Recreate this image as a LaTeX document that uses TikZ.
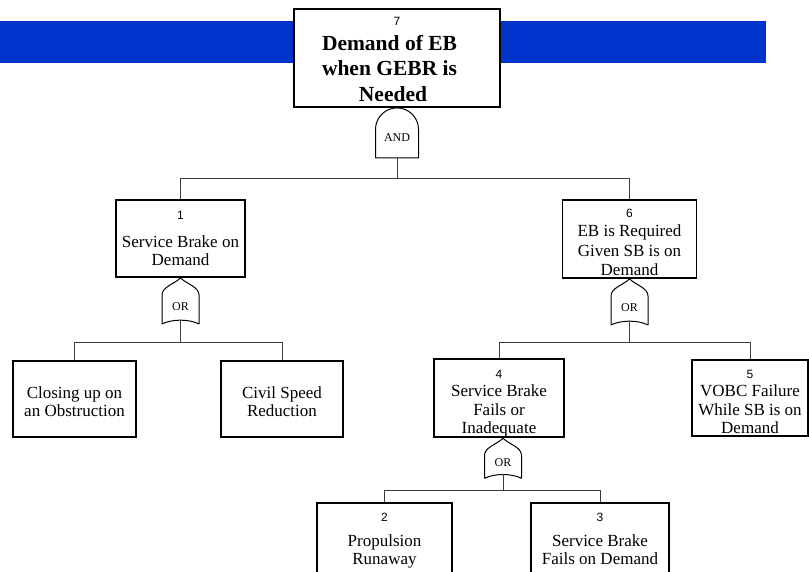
\documentclass[tikz,border=0pt]{standalone}
\usepackage{fontspec}
\setmainfont{Liberation Serif}
\newfontfamily\sansnum{Liberation Sans}
\usetikzlibrary{calc}
\definecolor{bandblue}{RGB}{0,51,204}
\definecolor{linkgray}{RGB}{60,60,60}
% event number printed above each event text
\newcommand\evno[1]{{\sansnum\mdseries\fontsize{12}{14}\selectfont #1}}
% invisible strut that lowers the text block inside its box
\newcommand\lift[1]{\rule{0pt}{#1}}
% invisible trailing space that moves a centred line to the left
\newcommand\trail[1]{\rule{#1}{0pt}}

\begin{document}
\begin{tikzpicture}[x=1pt,y=-1pt,
  evbox/.style={draw, line width=1.8pt, fill=white, align=center, inner sep=0pt,
    font=\fontsize{17}{18.5}\selectfont},
  link/.style={draw=linkgray, line width=1pt},
  gateline/.style={draw=black, line width=1pt, fill=white, line join=round},
  gatelabel/.style={font=\fontsize{12}{14}\selectfont, inner sep=0pt},
  pics/orgate/.style={code={
    \draw[gateline] (0,0) .. controls (6,6) and (18.5,9) .. (18.5,17)
      -- (18.5,#1) .. controls (8,#1-5) and (-8,#1-5) .. (-18.5,#1)
      -- (-18.5,17) .. controls (-18.5,9) and (-6,6) .. cycle;
    \node[gatelabel] (-lbl) at (0,{0.62*#1}) {OR};
    \coordinate (-in) at (0,0);
    \coordinate (-out) at (0,#1-4);
  }},
  pics/andgate/.style={code={
    \draw[gateline] (-21.5,50) -- (-21.5,21.5)
      .. controls (-21.5,9.6) and (-11.9,0) .. (0,0)
      .. controls (11.9,0) and (21.5,9.6) .. (21.5,21.5) -- (21.5,50) -- cycle;
    \node[gatelabel] (-lbl) at (0,30) {AND};
    \coordinate (-in) at (0,0);
    \coordinate (-out) at (0,50);
  }},
]
\useasboundingbox (0,0) rectangle (809,571);
\clip (0,0) rectangle (809,571);
\fill[white] (0,0) rectangle (809,571);

% title band
\fill[bandblue] (0,21) rectangle (766,63);

% top event
\node[evbox, minimum width=206pt, minimum height=98pt,
  font=\fontsize{21.5}{25.5}\selectfont\bfseries] (top) at (397,58)
  {\lift{11.6pt}\evno{7}\\[-1pt]Demand of EB\trail{15pt}\\when GEBR is\trail{15pt}\\Needed\trail{8pt}};
\pic (andg) at (top.south) {andgate};

% second level
\node[evbox, minimum width=129pt, minimum height=77pt] (b1) at (180.5,238.5)
  {\evno{1}\\[9pt]Service Brake on\\Demand};
\node[evbox, minimum width=134pt, minimum height=78pt] (b6) at (629.5,239)
  {\lift{14.6pt}\evno{6}\\[1pt]EB is Required\\[1pt]Given SB is on\\[0.5pt]Demand};

\coordinate (jA) at (397,178);
\draw[link] (andg-out) -- (jA);
\draw[link] (jA) -| (b1.north);
\draw[link] (jA) -| (b6.north);

% branch under event 1
\pic (g1) at (b1.south) {orgate=46};
\node[evbox, minimum width=123pt, minimum height=76pt] (bc) at (74.5,399)
  {\lift{17.6pt}Closing up on\\an Obstruction};
\node[evbox, minimum width=122pt, minimum height=76pt] (bs) at (282,399)
  {\lift{17.6pt}Civil Speed\\Reduction};
\coordinate (jB) at (180.5,342);
\draw[link] (g1-out) -- (jB);
\draw[link] (jB) -| (bc.north);
\draw[link] (jB) -| (bs.north);

% branch under event 6
\pic (g6) at (b6.south) {orgate=46};
\node[evbox, minimum width=130pt, minimum height=76pt] (b4) at (499,398)
  {\lift{19.6pt}\evno{4}\\Service Brake\\Fails or\\Inadequate};
\node[evbox, minimum width=116pt, minimum height=76pt] (b5) at (750,398)
  {\lift{16.6pt}\evno{5}\\VOBC Failure\\While SB is on\\Demand};
\coordinate (jC) at (629.5,342);
\draw[link] (g6-out) -- (jC);
\draw[link] (jC) -| (b4.north);
\draw[link] (jC) -| (b5.north);

% branch under event 4
\pic (g4) at ($(b4.south)+(4,0)$) {orgate=40};
\node[evbox, minimum width=135pt, minimum height=76pt] (b2) at (384.5,541)
  {\evno{2}\\[6pt]Propulsion\\Runaway};
\node[evbox, minimum width=138pt, minimum height=76pt] (b3) at (600,541)
  {\evno{3}\\[6pt]Service Brake\\Fails on Demand\rule[-4pt]{0pt}{0pt}};
\coordinate (jD) at (503,490);
\draw[link] (g4-out) -- (jD);
\draw[link] (jD) -| (b2.north);
\draw[link] (jD) -| (b3.north);
\end{tikzpicture}
\end{document}
